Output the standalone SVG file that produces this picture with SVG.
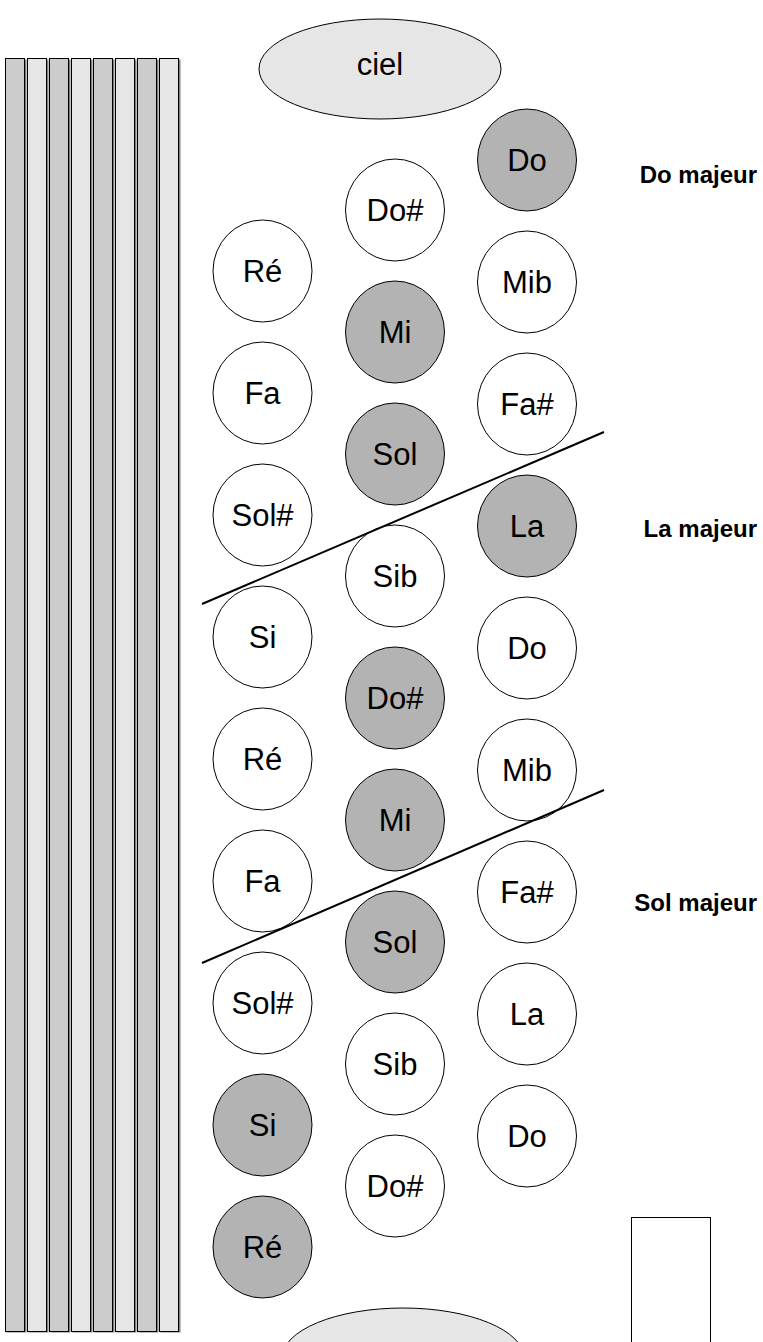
<svg xmlns="http://www.w3.org/2000/svg" width="763" height="1342" viewBox="0 0 763 1342">
<style>
.bar{stroke:#000;stroke-width:1}
.b1{fill:#cccccc}
.b2{fill:#e6e6e6}
.sh{fill:#808080}
.k{stroke:#000;stroke-width:1}
.w{fill:#ffffff}
.g{fill:#b3b3b3}
.e{fill:#e6e6e6}
.t{font-family:"Liberation Sans",Arial,sans-serif;font-size:31px;text-anchor:middle;fill:#000}
.lbl{font-family:"Liberation Sans",Arial,sans-serif;font-size:24px;font-weight:bold;text-anchor:end;fill:#000}
.ln{stroke:#000;stroke-width:2;fill:none}
</style>
<rect width="763" height="1342" fill="#ffffff"/>
<g id="bars">
<rect class="sh" x="6.5" y="59.5" width="20" height="1273"/><rect class="bar b1" x="5.5" y="58.5" width="19" height="1273"/>
<rect class="sh" x="28.5" y="59.5" width="20" height="1273"/><rect class="bar b2" x="27.5" y="58.5" width="19" height="1273"/>
<rect class="sh" x="50.5" y="59.5" width="20" height="1273"/><rect class="bar b1" x="49.5" y="58.5" width="19" height="1273"/>
<rect class="sh" x="72.5" y="59.5" width="20" height="1273"/><rect class="bar b2" x="71.5" y="58.5" width="19" height="1273"/>
<rect class="sh" x="94.5" y="59.5" width="20" height="1273"/><rect class="bar b1" x="93.5" y="58.5" width="19" height="1273"/>
<rect class="sh" x="116.5" y="59.5" width="20" height="1273"/><rect class="bar b2" x="115.5" y="58.5" width="19" height="1273"/>
<rect class="sh" x="138.5" y="59.5" width="20" height="1273"/><rect class="bar b1" x="137.5" y="58.5" width="19" height="1273"/>
<rect class="sh" x="160.5" y="59.5" width="20" height="1273"/><rect class="bar b2" x="159.5" y="58.5" width="19" height="1273"/>
</g>
<g id="ciel"><ellipse class="k e" cx="380" cy="69" rx="121" ry="50"/><text class="t" x="380" y="75">ciel</text></g>
<g id="bottom-ellipse"><ellipse class="k e" cx="403" cy="1358" rx="121" ry="50"/></g>
<g id="bottom-rect"><rect class="k w" x="631.5" y="1217.5" width="79" height="140"/></g>

<g id="r1"><ellipse class="k g" cx="527" cy="160" rx="49.5" ry="51"/><text class="t" x="527" y="171">Do</text></g>
<g id="r2"><ellipse class="k w" cx="527" cy="282" rx="49.5" ry="51"/><text class="t" x="527" y="293">Mib</text></g>
<g id="r3"><ellipse class="k w" cx="527" cy="404" rx="49.5" ry="51"/><text class="t" x="527" y="415">Fa#</text></g>
<g id="r4"><ellipse class="k g" cx="527" cy="526" rx="49.5" ry="51"/><text class="t" x="527" y="537">La</text></g>
<g id="r5"><ellipse class="k w" cx="527" cy="648" rx="49.5" ry="51"/><text class="t" x="527" y="659">Do</text></g>
<g id="r6"><ellipse class="k w" cx="527" cy="770" rx="49.5" ry="51"/><text class="t" x="527" y="781">Mib</text></g>
<g id="r7"><ellipse class="k w" cx="527" cy="892" rx="49.5" ry="51"/><text class="t" x="527" y="903">Fa#</text></g>
<g id="r8"><ellipse class="k w" cx="527" cy="1014" rx="49.5" ry="51"/><text class="t" x="527" y="1025">La</text></g>
<g id="r9"><ellipse class="k w" cx="527" cy="1136" rx="49.5" ry="51"/><text class="t" x="527" y="1147">Do</text></g>

<g id="m1"><ellipse class="k w" cx="395" cy="210" rx="49.5" ry="51"/><text class="t" x="395" y="221">Do#</text></g>
<g id="m2"><ellipse class="k g" cx="395" cy="332" rx="49.5" ry="51"/><text class="t" x="395" y="343">Mi</text></g>
<g id="m3"><ellipse class="k g" cx="395" cy="454" rx="49.5" ry="51"/><text class="t" x="395" y="465">Sol</text></g>
<g id="m4"><ellipse class="k w" cx="395" cy="576" rx="49.5" ry="51"/><text class="t" x="395" y="587">Sib</text></g>
<g id="m5"><ellipse class="k g" cx="395" cy="698" rx="49.5" ry="51"/><text class="t" x="395" y="709">Do#</text></g>
<g id="m6"><ellipse class="k g" cx="395" cy="820" rx="49.5" ry="51"/><text class="t" x="395" y="831">Mi</text></g>
<g id="m7"><ellipse class="k g" cx="395" cy="942" rx="49.5" ry="51"/><text class="t" x="395" y="953">Sol</text></g>
<g id="m8"><ellipse class="k w" cx="395" cy="1064" rx="49.5" ry="51"/><text class="t" x="395" y="1075">Sib</text></g>
<g id="m9"><ellipse class="k w" cx="395" cy="1186" rx="49.5" ry="51"/><text class="t" x="395" y="1197">Do#</text></g>

<g id="l1"><ellipse class="k w" cx="262.5" cy="271" rx="49.5" ry="51"/><text class="t" x="262.5" y="282">Ré</text></g>
<g id="l2"><ellipse class="k w" cx="262.5" cy="393" rx="49.5" ry="51"/><text class="t" x="262.5" y="404">Fa</text></g>
<g id="l3"><ellipse class="k w" cx="262.5" cy="515" rx="49.5" ry="51"/><text class="t" x="262.5" y="526">Sol#</text></g>
<g id="l4"><ellipse class="k w" cx="262.5" cy="637" rx="49.5" ry="51"/><text class="t" x="262.5" y="648">Si</text></g>
<g id="l5"><ellipse class="k w" cx="262.5" cy="759" rx="49.5" ry="51"/><text class="t" x="262.5" y="770">Ré</text></g>
<g id="l6"><ellipse class="k w" cx="262.5" cy="881" rx="49.5" ry="51"/><text class="t" x="262.5" y="892">Fa</text></g>
<g id="l7"><ellipse class="k w" cx="262.5" cy="1003" rx="49.5" ry="51"/><text class="t" x="262.5" y="1014">Sol#</text></g>
<g id="l8"><ellipse class="k g" cx="262.5" cy="1125" rx="49.5" ry="51"/><text class="t" x="262.5" y="1136">Si</text></g>
<g id="l9"><ellipse class="k g" cx="262.5" cy="1247" rx="49.5" ry="51"/><text class="t" x="262.5" y="1258">Ré</text></g>

<g id="labels">
<text class="lbl" x="757" y="183">Do majeur</text>
<text class="lbl" x="757" y="537">La majeur</text>
<text class="lbl" x="757" y="911">Sol majeur</text>
</g>

<g id="connectors">
<line class="ln" x1="202" y1="604" x2="604" y2="432"/>
<line class="ln" x1="202" y1="963" x2="604" y2="790"/>
</g>
</svg>
